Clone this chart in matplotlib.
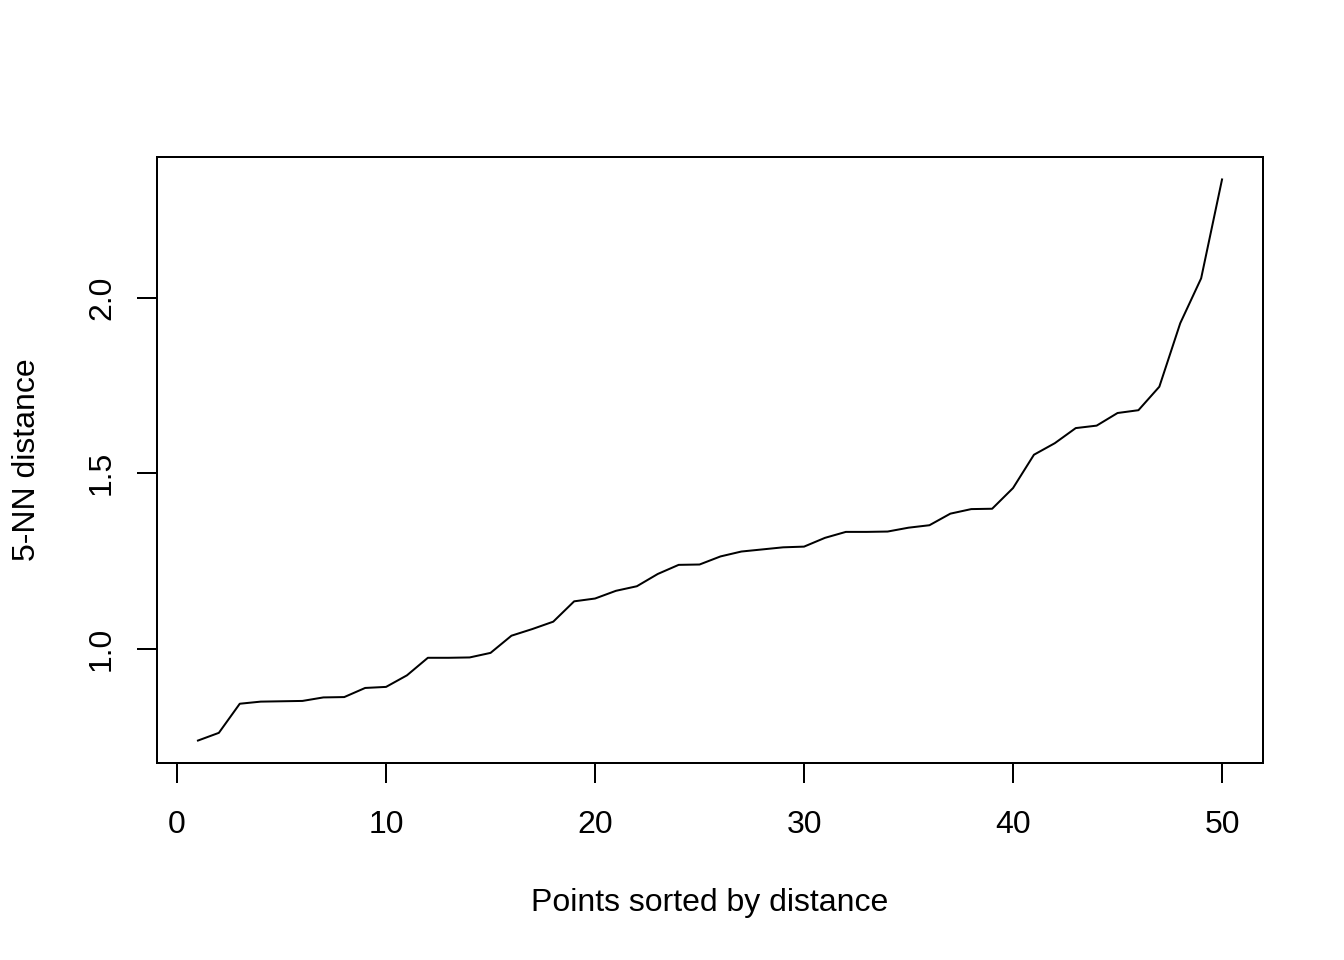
import matplotlib
matplotlib.use("Agg")
import matplotlib.pyplot as plt
import numpy as np

# sorted 5-NN distances
knn_dist = [0.738, 0.760, 0.843, 0.849, 0.850, 0.851, 0.861, 0.862, 0.888, 0.891,
            0.924, 0.974, 0.974, 0.975, 0.988, 1.037, 1.056, 1.077, 1.135, 1.143,
            1.165, 1.178, 1.213, 1.239, 1.240, 1.263, 1.277, 1.283, 1.289, 1.291,
            1.316, 1.333, 1.333, 1.334, 1.345, 1.352, 1.385, 1.398, 1.399, 1.458,
            1.553, 1.586, 1.629, 1.636, 1.672, 1.680, 1.747, 1.928, 2.056, 2.338]
points = np.arange(1, len(knn_dist) + 1)
x_ticks = [0, 10, 20, 30, 40, 50]
y_ticks = [1.0, 1.5, 2.0]

plt.rcParams['font.family'] = ['Liberation Sans', 'DejaVu Sans']
plt.rcParams['font.size'] = 12

fig = plt.figure(figsize=(7, 5), dpi=192)
ax = fig.add_axes([157 / 1344, 197 / 960, 1106 / 1344, 606 / 960])

ax.plot(points, knn_dist, color='black', linewidth=0.75)

# R style 4% padding on both axes
def r_lim(v):
    lo, hi = min(v), max(v)
    d = (hi - lo) * 0.04
    return lo - d, hi + d

ax.set_xlim(*r_lim(points))
ax.set_ylim(*r_lim(knn_dist))
ax.set_xticks(x_ticks)
ax.set_xticklabels([str(t) for t in x_ticks])
ax.set_yticks(y_ticks)
ax.set_yticklabels(["%.1f" % t for t in y_ticks], rotation=90, va='center')

for s in ax.spines.values():
    s.set_linewidth(0.75)
ax.tick_params(direction='out', length=7.5, width=0.75, colors='black')
ax.tick_params(axis='x', pad=10)
ax.tick_params(axis='y', pad=7.5)

ax.set_xlabel("Points sorted by distance", labelpad=18)
ax.set_ylabel("5-NN distance", labelpad=17)

fig.savefig("out.png", dpi=192)
